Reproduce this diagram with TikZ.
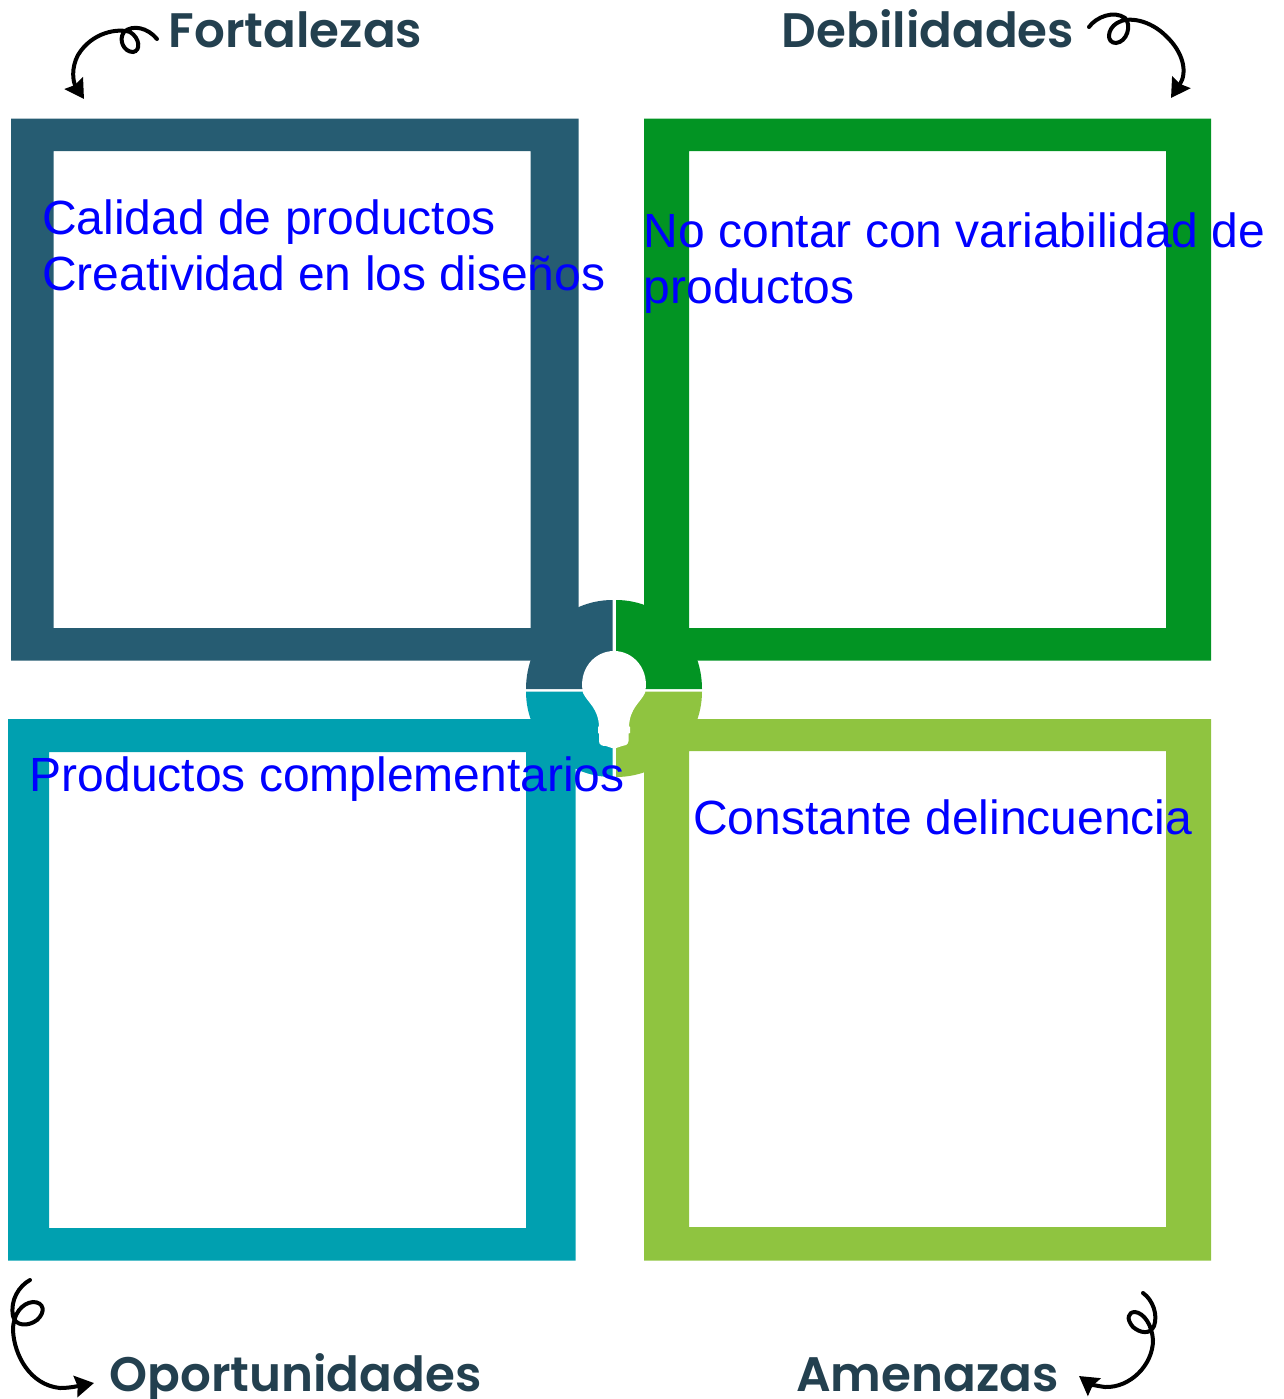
\documentclass[tikz,border=0pt]{standalone}
\usepackage{fontspec}
\setmainfont{Liberation Sans}
\newfontfamily\headfont{Poppins SemiBold}
\usetikzlibrary{arrows.meta}
\definecolor{fortcolor}{HTML}{265C72}
\definecolor{debcolor}{HTML}{029423}
\definecolor{opocolor}{HTML}{00A0B0}
\definecolor{amecolor}{HTML}{8FC440}
\definecolor{headcolor}{HTML}{23404F}
\tikzset{
  headlabel/.style={anchor=base,inner sep=0pt,text=headcolor,font=\headfont\fontsize{36.3}{42}\selectfont},
  bluetext/.style={anchor=north west,inner sep=0pt,align=left,text=blue,font=\fontsize{36}{42}\selectfont},
  curlyarrow/.style={line width=3pt,line cap=round,-{Stealth[length=14pt,width=16pt,inset=1.5pt]}}
}
\begin{document}
\begin{tikzpicture}[x=0.75pt,y=0.75pt,yscale=-1,xscale=1]
    \useasboundingbox (0,0) rectangle (1283,1399);

    %Shape: Frames
    \fill [fortcolor,even odd rule] (11,118.5) rectangle (578.5,660.5) (53.5,151) rectangle (530.5,628);
    \fill [debcolor,even odd rule] (644,118.5) rectangle (1211,660.5) (689,151) rectangle (1166,628);
    \fill [opocolor,even odd rule] (8,719) rectangle (575.5,1260.5) (49,752) rectangle (526,1228);
    \fill [amecolor,even odd rule] (644,719) rectangle (1211,1260.5) (689,751) rectangle (1166,1227);

    %Shape: Quarters round the bulb
    \fill [fortcolor] (612.5,689) -- (526,689) arc (180:270:86.5 and 89) -- cycle;
    \fill [debcolor] (616,689) -- (616,600) arc (-90:0:86 and 89) -- cycle;
    \fill [opocolor] (612.5,691.5) -- (526,691.5) arc (180:90:86.5 and 85.5) -- cycle;
    \fill [amecolor] (616,691.5) -- (702,691.5) arc (0:90:86 and 85.5) -- cycle;

    %Shape: Bulb
    \fill [white] (583,693) .. controls (578,670) and (594,651) .. (614,651)
      .. controls (634,651) and (650,670) .. (645,693)
      .. controls (640,703) and (630,708) .. (629,726) -- (630,727) -- (630,733) -- (628.5,733.5) -- (628.5,741)
      .. controls (628,745) and (625,746) .. (622,746) -- (616,748) -- (612,748) -- (606,746)
      .. controls (602,746) and (599,745) .. (599,741) -- (599,733.5) -- (598,733) -- (598,727) -- (599,726)
      .. controls (598,708) and (588,703) .. (583,693) -- cycle;
    \fill [white] (612.5,745) rectangle (616,780);

    %Curve Lines
    \draw [curlyarrow] (157,39) .. controls (148,28) and (133,24) .. (124,32) .. controls (118,40) and (124,52) .. (133,52)
      .. controls (141,51) and (140,38) .. (130,32) .. controls (118,28) and (92,32) .. (78,55) .. controls (71,68) and (73,82) .. (84,99);
    \draw [curlyarrow] (1089,27) .. controls (1096,17) and (1114,10) .. (1125,18) .. controls (1132,25) and (1127,42) .. (1116,43)
      .. controls (1106,43) and (1107,29) .. (1117,23) .. controls (1128,16) and (1150,20) .. (1166,36) .. controls (1183,52) and (1188,72) .. (1171,98);
    \draw [curlyarrow] (30,1280) .. controls (19,1286) and (10,1300) .. (13,1316) .. controls (15,1326) and (28,1327) .. (37,1320)
      .. controls (46,1312) and (44,1302) .. (33,1302) .. controls (22,1303) and (13,1314) .. (13,1330)
      .. controls (14,1355) and (30,1385) .. (60,1388) .. controls (70,1388) and (78,1386) .. (94,1383);
    \draw [curlyarrow] (1143,1293) .. controls (1153,1300) and (1158,1315) .. (1154,1326) .. controls (1150,1335) and (1140,1333) .. (1133,1327)
      .. controls (1126,1319) and (1128,1312) .. (1135,1312) .. controls (1144,1313) and (1152,1325) .. (1153,1340)
      .. controls (1153,1365) and (1130,1388) .. (1105,1387) .. controls (1097,1386) and (1090,1384) .. (1079,1376);

    % Text Node
    \node [headlabel] (fortalezas) at (295.5,47) {Fortalezas};
    \node [headlabel] (debilidades) at (928,47) {Debilidades};
    \node [headlabel] (oportunidades) at (295.5,1391) {Oportunidades};
    \node [headlabel] (amenazas) at (927.5,1391) {Amenazas};
    % Text Node
    \node [bluetext] (fortlist) at (42,199) {Calidad de productos\\Creatividad en los diseños};
    \node [bluetext] (deblist) at (643.5,212) {No contar con variabilidad de\\productos};
    \node [bluetext] (opolist) at (29.5,756) {Productos complementarios};
    \node [bluetext] (amelist) at (693,799) {Constante delincuencia};
\end{tikzpicture}
\end{document}
